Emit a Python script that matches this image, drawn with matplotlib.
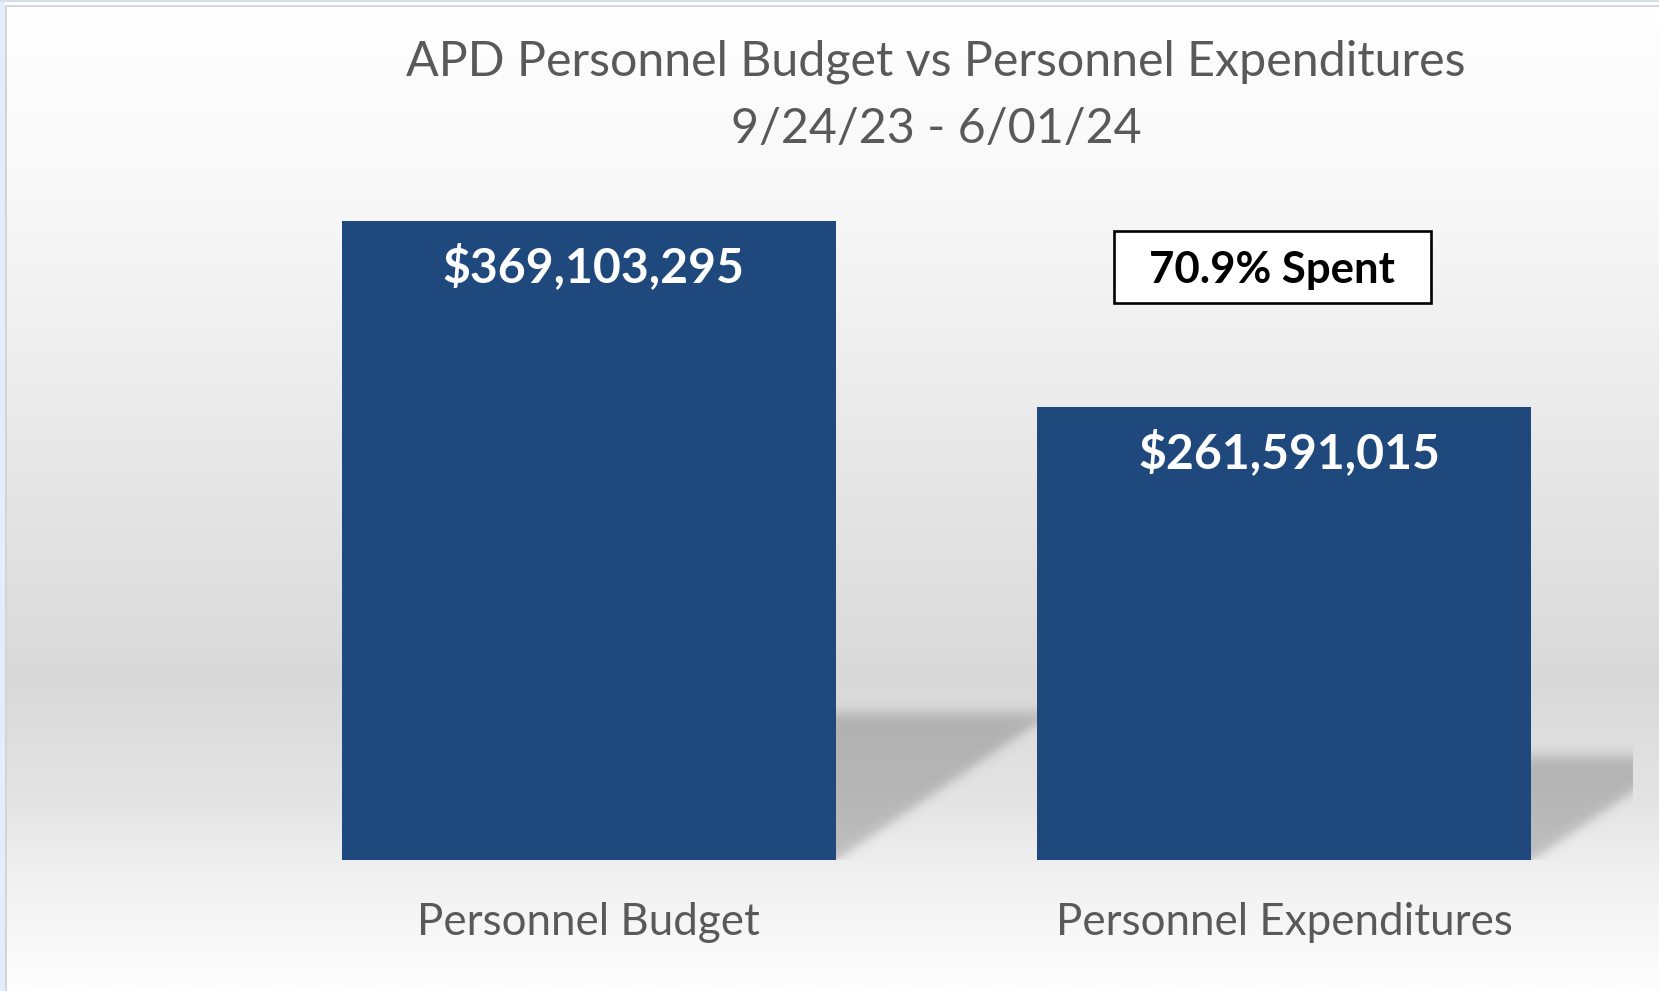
import matplotlib
matplotlib.use('Agg')
import matplotlib.pyplot as plt
from matplotlib.transforms import IdentityTransform
import numpy as np

# data
categories = ['Personnel Budget', 'Personnel Expenditures']
amounts = [369103295, 261591015]
title_lines = ['APD Personnel Budget vs Personnel Expenditures', '9/24/23 - 6/01/24']

plt.rcParams['font.family'] = ['Lato', 'DejaVu Sans']

W, H = 1659, 991
fig = plt.figure(figsize=(W / 100, H / 100), dpi=100)

# background gradient (white -> light gray -> white)
bg = fig.add_axes([0, 0, 1, 1], zorder=-10)
rows = np.arange(H)
grey = np.interp(rows, [0, 200, 450, 680, 800, 870, 990],
                 [255, 248, 232, 217, 228, 240, 254]) / 255
bg.imshow(np.repeat(grey[:, None], 3, axis=1)[:, None, :], aspect='auto',
          extent=(0, 1, 0, 1), interpolation='bilinear')
bg.set_axis_off()
# window frame bits
bg.add_patch(plt.Rectangle((0, 0), 5 / W, 1, color='#e3eefc', lw=0))
bg.add_patch(plt.Rectangle((5 / W, 0), 2 / W, 1 - 5 / H, color='#d4d4d4', lw=0))
bg.add_patch(plt.Rectangle((0, 1 - 2 / H), 1, 2 / H, color='#d5dde6', lw=0))
bg.add_patch(plt.Rectangle((5 / W, 1 - 7 / H), 1, 2 / H, color='#d8d8d8', lw=0))
bg.set_xlim(0, 1)
bg.set_ylim(0, 1)

# plot area
ymax = 400e6
bar_px = 639  # pixel height of tallest bar
ax_h = bar_px * ymax / max(amounts)
ax = fig.add_axes([241 / W, (H - 860) / H, (1632 - 241) / W, ax_h / H])
ax.patch.set_alpha(0)
ax.set_xlim(-0.5, 1.5)
ax.set_ylim(0, ymax)

x = np.arange(len(amounts))
width = 0.71
bars = ax.bar(x, amounts, width=width, color='#1F497D', zorder=3)

# soft diagonal shadow behind bars
nx, ny = 1391, int(round(ax_h))
px_per_x = nx / 2.0
px_per_y = ny / ymax
X = np.arange(nx)[None, :] + 0.5
Y = np.arange(ny)[:, None] + 0.5
alpha = np.zeros((ny, nx))
slope = 0.68
for xi, v in zip(x, amounts):
    left = (xi - width / 2 + 0.5) * px_per_x
    right = (xi + width / 2 + 0.5) * px_per_x
    top = 0.23 * v * px_per_y
    s_top = 1 / (1 + np.exp((Y - top) / 4.0))
    d = ((X - right) * slope - Y) / np.hypot(1, slope)
    s_diag = 1 / (1 + np.exp(d / 3.0))
    s_left = (X >= left).astype(float)
    alpha = np.maximum(alpha, 0.2 * s_top * s_diag * s_left)
rgba = np.zeros((ny, nx, 4))
rgba[..., 3] = alpha
ax.imshow(rgba, extent=(-0.5, 1.5, 0, ymax), origin='lower', aspect='auto',
          zorder=1, interpolation='bilinear')

# value labels inside bars
for xi, v in zip(x, amounts):
    ax.annotate(f'${v:,.0f}', xy=(xi, v), xytext=(5, -61), textcoords='offset pixels',
                ha='center', va='baseline', color='white', fontsize=34.7, fontweight='bold',
                zorder=4)

# percentage spent callout
pct = amounts[1] / amounts[0] * 100
ox, oy = ax.transData.transform((1, amounts[0]))
ax.add_patch(plt.Rectangle((ox - 170, oy - 82), 317, 72, transform=IdentityTransform(),
                           fc='white', ec='black', lw=1.9, zorder=5))
ax.annotate(f'{pct:.1f}% Spent', xy=(1, amounts[0]), xytext=(-12, -62),
            textcoords='offset pixels', ha='center', va='baseline', color='black',
            fontsize=31.5, fontweight='bold', zorder=6)

ax.set_xticks(x)
ax.set_xticklabels(categories, fontsize=31.6, color='#595959', va='baseline')
ax.tick_params(axis='x', length=0, pad=54)
ax.set_yticks([])
for s in ax.spines.values():
    s.set_visible(False)

fig.text(936 / W, 1 - 76 / H, title_lines[0], ha='center', va='baseline',
         fontsize=34.8, color='#595959')
fig.text(936 / W, 1 - 143 / H, title_lines[1], ha='center', va='baseline',
         fontsize=34.8, color='#595959')

fig.savefig('out.png', dpi=100)
